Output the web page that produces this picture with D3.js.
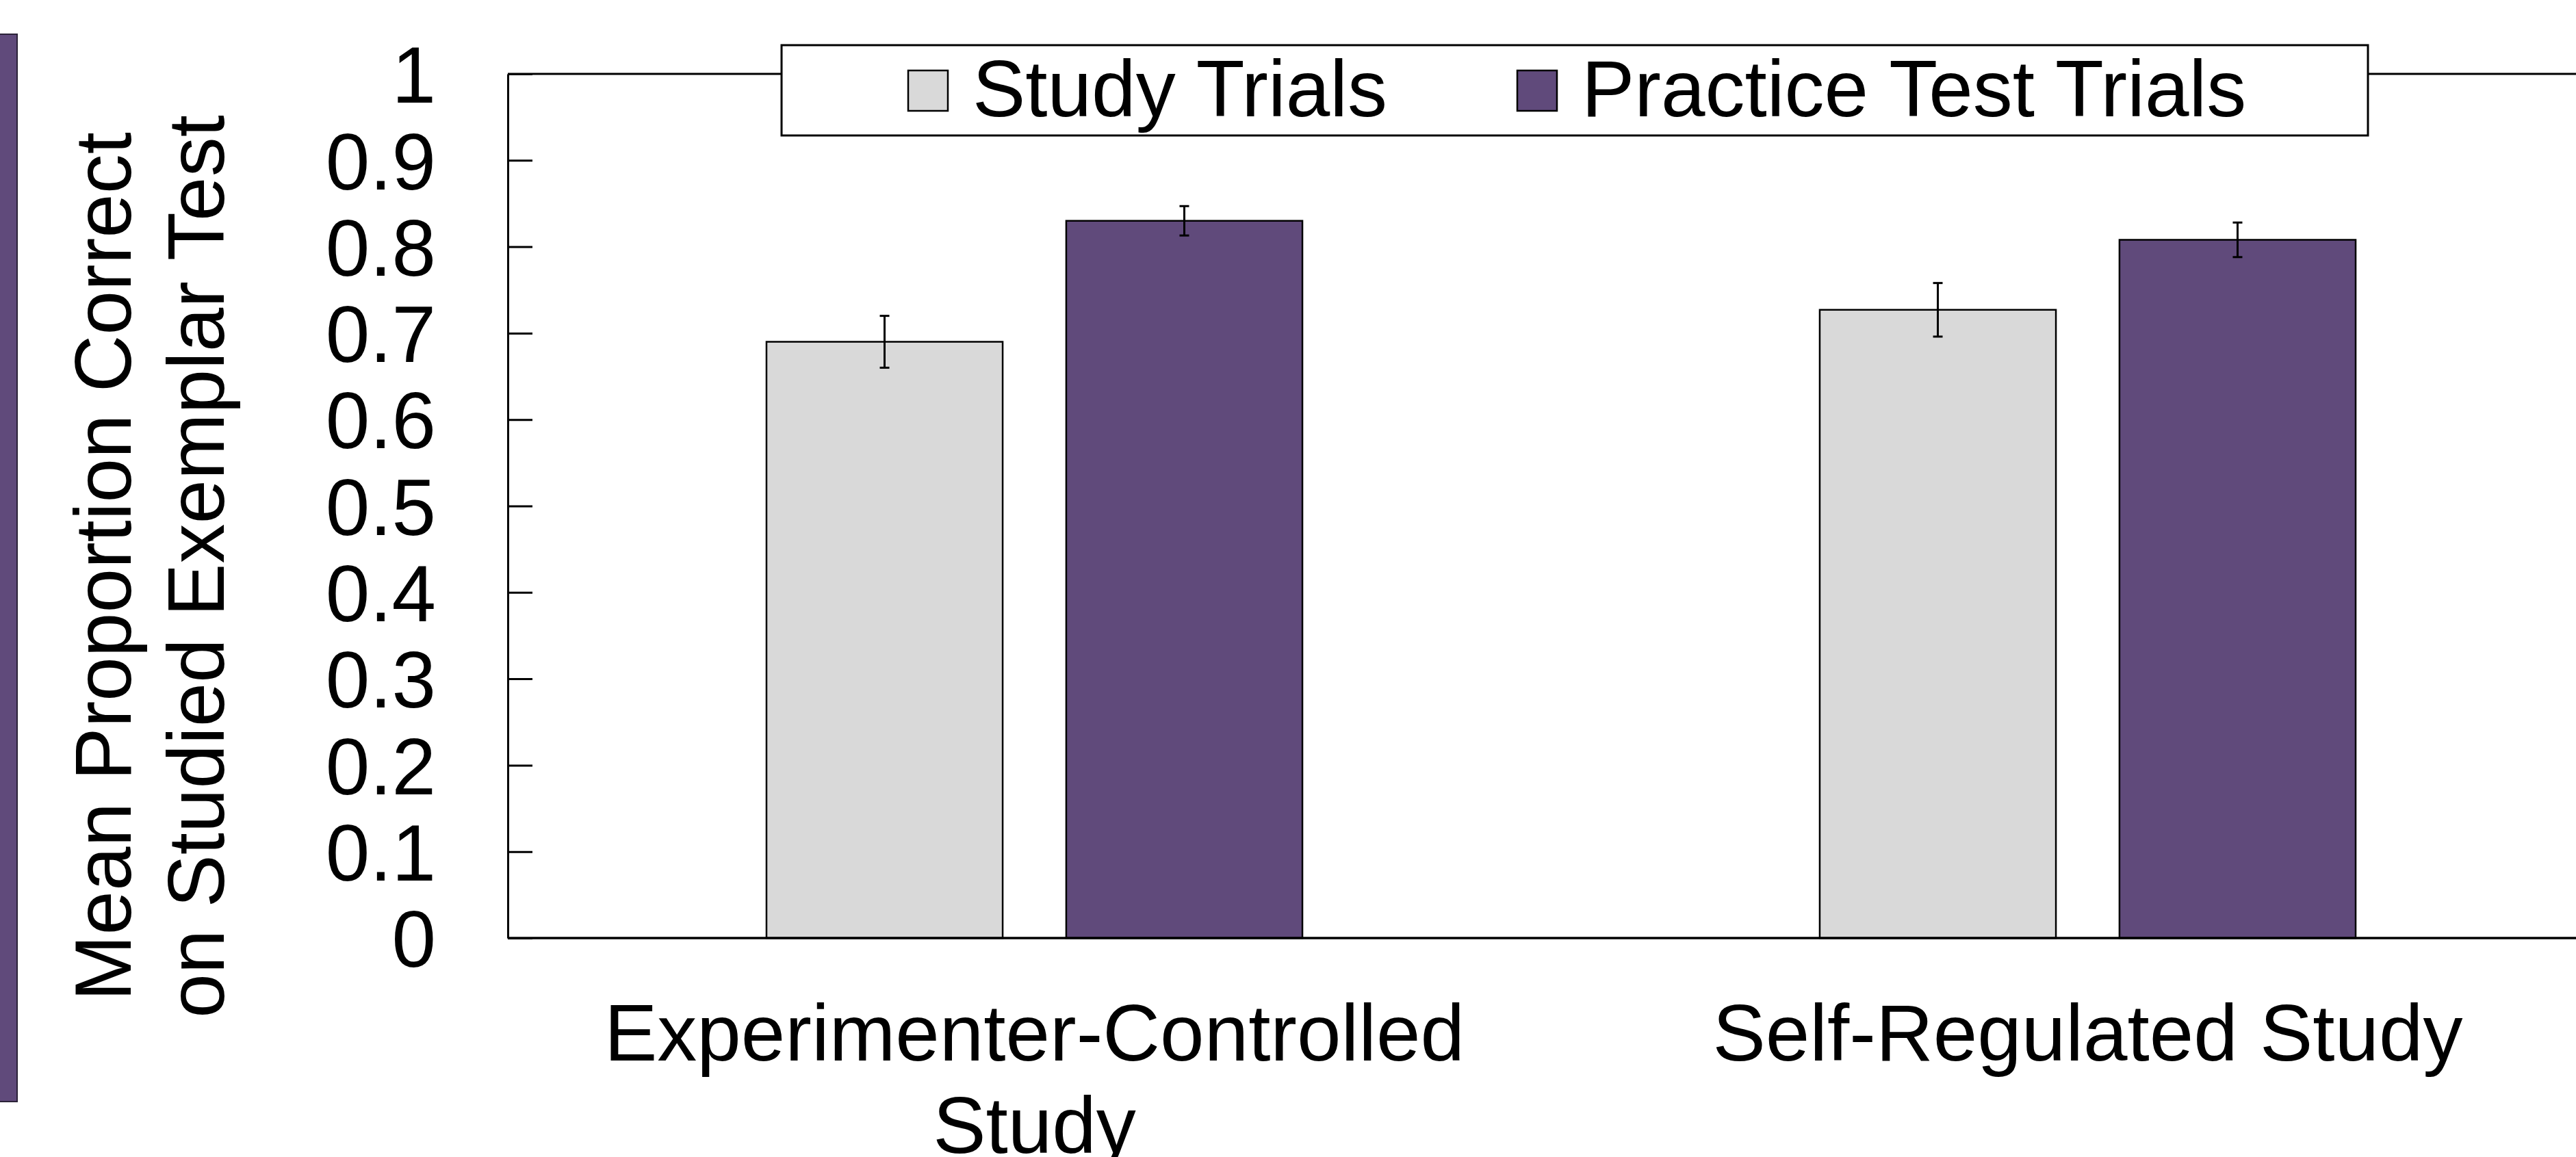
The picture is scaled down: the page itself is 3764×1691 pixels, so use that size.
<!DOCTYPE html>
<html>
<head>
<meta charset="utf-8">
<script src="https://cdn.jsdelivr.net/npm/d3@7"></script>
<style>
  html, body { margin: 0; padding: 0; background: #fff; }
  svg { display: block; font-family: "Liberation Sans", Arial, sans-serif; }
</style>
</head>
<body>
<svg id="chart" width="3764" height="1691"></svg>
<script>
// data
var categories = ["Experimenter-Controlled Study", "Self-Regulated Study"];
var categoryLines = [["Experimenter-Controlled", "Study"], ["Self-Regulated Study"]];
var series = ["Study Trials", "Practice Test Trials"];
var studyValues = [0.690, 0.727];
var studyErrors = [0.030, 0.031];
var practiceValues = [0.830, 0.808];
var practiceErrors = [0.017, 0.020];
var yTicks = [0, 0.1, 0.2, 0.3, 0.4, 0.5, 0.6, 0.7, 0.8, 0.9, 1];
var yTickLabels = ["0", "0.1", "0.2", "0.3", "0.4", "0.5", "0.6", "0.7", "0.8", "0.9", "1"];
var yTitle = ["Mean Proportion Correct", "on Studied Exemplar Test"];

var colors = {"Study Trials": "#d9d9d9", "Practice Test Trials": "#604a7b"};

(function () {
    var svg = d3.select("#chart");
    var pLeft = 742, pTop = 108, pBottom = 1371, pRight = 3820;
    var fs = 116;

    var rows = [];
    categories.forEach(function (c, i) {
        rows.push({cat: c, s: series[0], v: studyValues[i], e: studyErrors[i]});
        rows.push({cat: c, s: series[1], v: practiceValues[i], e: practiceErrors[i]});
    });

    var x0 = d3.scaleBand().domain(categories).range([pLeft, pRight]).padding(0);
    var x1 = d3.scaleBand().domain(series).range([0, x0.bandwidth()]).paddingInner(0.212).paddingOuter(0.863);
    var y = d3.scaleLinear().domain([0, 1]).range([pBottom, pTop]);

    // side strip
    svg.append("rect").attr("x", -2).attr("y", 50).attr("width", 27).attr("height", 1560)
        .attr("fill", "#604a7b").attr("stroke", "#2b2238").attr("stroke-width", 2);

    // top frame line
    svg.append("line").attr("x1", pLeft).attr("x2", 3764).attr("y1", pTop).attr("y2", pTop)
        .attr("stroke", "#000").attr("stroke-width", 3);

    // bars
    svg.append("g").selectAll("rect").data(rows).enter().append("rect")
        .attr("x", function (d) { return x0(d.cat) + x1(d.s); })
        .attr("y", function (d) { return y(d.v); })
        .attr("width", x1.bandwidth())
        .attr("height", function (d) { return y(0) - y(d.v); })
        .attr("fill", function (d) { return colors[d.s]; })
        .attr("stroke", "#000").attr("stroke-width", 2.5);

    // error bars
    var eg = svg.append("g").attr("stroke", "#000").attr("stroke-width", 3);
    rows.forEach(function (d) {
        var cx = x0(d.cat) + x1(d.s) + x1.bandwidth() / 2;
        eg.append("line").attr("x1", cx).attr("x2", cx).attr("y1", y(d.v + d.e)).attr("y2", y(d.v - d.e));
        eg.append("line").attr("x1", cx - 7).attr("x2", cx + 7).attr("y1", y(d.v + d.e)).attr("y2", y(d.v + d.e));
        eg.append("line").attr("x1", cx - 7).attr("x2", cx + 7).attr("y1", y(d.v - d.e)).attr("y2", y(d.v - d.e));
    });

    // y axis, ticks pointing inward
    var yAxis = svg.append("g").attr("transform", "translate(" + pLeft + ",0)")
        .call(d3.axisLeft(y).tickValues(yTicks).tickSizeInner(-36).tickSizeOuter(0).tickPadding(105)
            .tickFormat(function (d, i) { return yTickLabels[i]; }));
    yAxis.select(".domain").attr("stroke", "#000").attr("stroke-width", 3);
    yAxis.selectAll(".tick line").attr("stroke", "#000").attr("stroke-width", 3);
    yAxis.selectAll(".tick text").attr("font-size", fs).attr("font-family", "Liberation Sans, Arial, sans-serif")
        .attr("fill", "#000").attr("dy", "0.36em");

    // x axis line
    svg.append("line").attr("x1", pLeft).attr("x2", 3764).attr("y1", pBottom).attr("y2", pBottom)
        .attr("stroke", "#000").attr("stroke-width", 3.5);

    // category labels
    categories.forEach(function (c, i) {
        var cx = x0(c) + x0.bandwidth() / 2;
        var t = svg.append("text").attr("text-anchor", "middle").attr("font-size", fs).attr("fill", "#000");
        categoryLines[i].forEach(function (ln, j) {
            t.append("tspan").attr("x", cx).attr("y", 1550 + j * 135).text(ln);
        });
    });

    // y title
    yTitle.forEach(function (ln, j) {
        svg.append("text").attr("transform", "translate(" + (191 + j * 136) + ",828) rotate(-90)")
            .attr("text-anchor", "middle").attr("font-size", fs).attr("fill", "#000").text(ln);
    });

    // legend
    var lg = svg.append("g");
    lg.append("rect").attr("x", 1142).attr("y", 66).attr("width", 2318).attr("height", 132)
        .attr("fill", "#fff").attr("stroke", "#000").attr("stroke-width", 3);
    var legendX = [1327, 2217];
    series.forEach(function (s, i) {
        lg.append("rect").attr("x", legendX[i]).attr("y", 103).attr("width", 58).attr("height", 59)
            .attr("fill", colors[s]).attr("stroke", "#000").attr("stroke-width", 2.5);
        lg.append("text").attr("x", legendX[i] + 94).attr("y", 170).attr("font-size", fs).attr("fill", "#000").text(s);
    });
})();
</script>
</body>
</html>
